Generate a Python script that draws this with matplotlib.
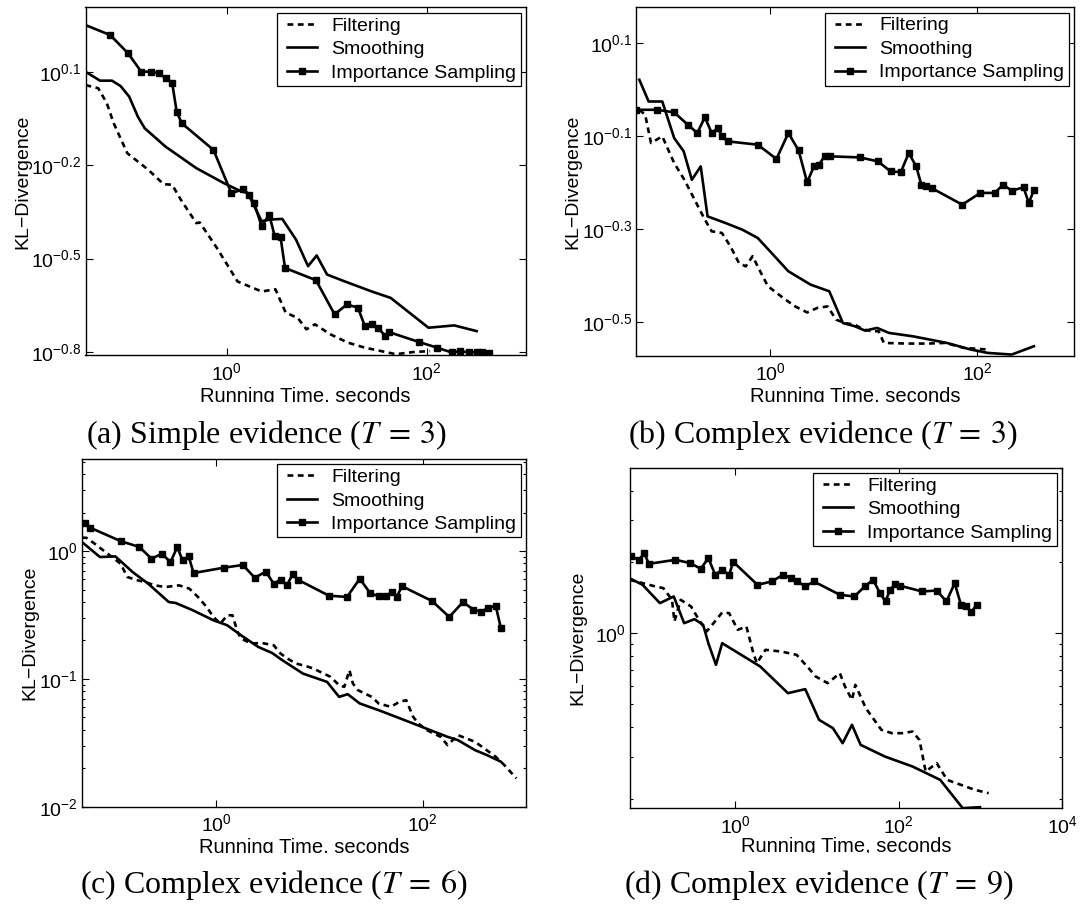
import numpy as np
import matplotlib
matplotlib.use("Agg")
import matplotlib.pyplot as plt
from matplotlib.lines import Line2D
from matplotlib.legend_handler import HandlerLine2D
from matplotlib.patches import Rectangle
from matplotlib.ticker import NullLocator, NullFormatter, LogLocator

plt.rcParams['font.family'] = ['Liberation Sans', 'DejaVu Sans']

# ---------------- data ----------------
series_labels = ['Filtering', 'Smoothing', 'Importance Sampling']
captions = [r'(a) Simple evidence ($T\:=\:3$)', r'(b) Complex evidence ($T\:=\:3$)',
            r'(c) Complex evidence ($T\:=\:6$)', r'(d) Complex evidence ($T\:=\:9$)']
x_label = 'Running Time, seconds'
y_label = 'KL\u2212Divergence'

# panel (a)
a_filt_t = [0.039, 0.0523, 0.0637, 0.0746, 0.102, 0.165, 0.235, 0.286, 0.349, 0.499, 0.540, 0.801,
            1.288, 2.24, 3.08, 3.90, 5.14, 6.27, 7.64, 10.9, 16.2, 24.1, 49.1, 72.9, 108]
a_filt_kl = [1.14, 1.114, 0.997, 0.860, 0.689, 0.610, 0.548, 0.546, 0.489, 0.411, 0.413, 0.342,
             0.267, 0.248, 0.252, 0.212, 0.204, 0.1875, 0.1945, 0.1807, 0.170, 0.1637, 0.156, 0.1585, 0.1596]
a_smooth_t = [0.039, 0.0544, 0.0717, 0.0874, 0.1065, 0.130, 0.152, 0.245, 0.499, 0.939, 1.394, 1.633,
              2.24, 2.73, 3.60, 4.94, 6.52, 7.95, 10.1, 15.0, 28.2, 43.6, 104, 188, 315]
a_smooth_kl = [1.259, 1.178, 1.178, 1.132, 1.047, 0.903, 0.829, 0.724, 0.617, 0.5525, 0.520, 0.513,
               0.417, 0.422, 0.424, 0.364, 0.299, 0.3236, 0.281, 0.2675, 0.248, 0.2365, 0.1897, 0.193, 0.185]
a_is_t = [0.0338, 0.0689, 0.104, 0.1405, 0.1754, 0.212, 0.248, 0.286, 0.3175, 0.357, 0.740, 1.117,
          1.474, 1.673, 1.883, 2.24, 2.67, 3.03, 3.46, 3.84, 7.83, 12.0, 15.95, 20.5, 24.1, 28.2,
          32.5, 38.1, 41.9, 84.0, 127, 177, 217, 262, 315, 355, 422]
a_is_kl = [1.81, 1.650, 1.441, 1.259, 1.259, 1.243, 1.198, 1.161, 0.937, 0.860, 0.706, 0.513,
           0.528, 0.507, 0.477, 0.402, 0.4375, 0.3727, 0.371, 0.295, 0.2695, 0.2094, 0.2254, 0.220,
           0.192, 0.1945, 0.190, 0.179, 0.1837, 0.1706, 0.1637, 0.158, 0.1596, 0.158, 0.1585, 0.1585, 0.157]

# panel (b)
b_filt_t = [0.054, 0.0615, 0.070, 0.090, 0.1173, 0.1473, 0.185, 0.2325, 0.2706, 0.340, 0.411, 0.497,
            0.5785, 0.674, 0.784, 0.948, 1.335, 1.741, 2.272, 2.854, 3.585, 4.335, 5.243, 6.585,
            7.96, 9.63, 11.2, 12.56, 20.6, 33.7, 49.3, 74.9, 127.5]
b_filt_kl = [0.905, 0.883, 0.768, 0.7935, 0.6955, 0.640, 0.580, 0.5255, 0.496, 0.492, 0.4605, 0.424,
             0.417, 0.4385, 0.410, 0.378, 0.3566, 0.342, 0.332, 0.3395, 0.342, 0.3204, 0.315, 0.3126,
             0.305, 0.3025, 0.3025, 0.2855, 0.2846, 0.2846, 0.2855, 0.2786, 0.2763]
b_smooth_t = [0.054, 0.0664, 0.090, 0.1173, 0.145, 0.174, 0.212, 0.247, 0.3667, 0.5363, 0.755, 1.063,
              1.496, 2.452, 3.724, 5.045, 6.585, 8.27, 10.8, 14.08, 24.0, 51.2, 87.2, 127.5, 217, 356]
b_smooth_kl = [1.050, 0.943, 0.943, 0.787, 0.737, 0.640, 0.684, 0.534, 0.517, 0.500, 0.480, 0.442,
               0.407, 0.381, 0.3686, 0.315, 0.310, 0.3034, 0.3075, 0.300, 0.295, 0.2855, 0.2763,
               0.2717, 0.2695, 0.2808]
b_is_t = [0.050, 0.0802, 0.1173, 0.159, 0.1966, 0.2325, 0.2706, 0.3103, 0.340, 0.3896, 0.755, 1.147,
          1.496, 1.879, 2.272, 2.645, 2.965, 3.373, 3.808, 7.38, 11.04, 14.62, 18.36, 21.9, 25.85,
          29.0, 32.5, 36.4, 72.1, 108, 148.5, 179.5, 217, 283, 317.5, 356]
b_is_kl = [0.905, 0.905, 0.8936, 0.8406, 0.8068, 0.873, 0.8068, 0.827, 0.7935, 0.774, 0.7615, 0.7095,
           0.8068, 0.7404, 0.632, 0.684, 0.6898, 0.7212, 0.7188, 0.715, 0.701, 0.667, 0.665, 0.7306,
           0.684, 0.6247, 0.6217, 0.6145, 0.566, 0.5998, 0.5998, 0.6247, 0.6064, 0.6166, 0.5706, 0.6074]

# panel (c)
c_filt_t = [0.0501, 0.055, 0.0666, 0.0806, 0.0977, 0.1184, 0.138, 0.1738, 0.2026, 0.255, 0.321,
            0.4365, 0.5495, 0.666, 0.8066, 0.94, 1.096, 1.278, 1.435, 1.61, 1.738, 2.188, 2.754,
            3.604, 4.2, 4.9, 5.934, 7.47, 8.71, 12.79, 15.49, 17.38, 19.5, 21.05, 23.62, 32.1, 37.4,
            49.0, 59.3, 69.2, 80.7, 90.5, 109.6, 149, 173.8, 218.8, 321, 509, 617, 807]
c_filt_kl = [1.271, 1.271, 1.141, 1.012, 0.898, 0.796, 0.626, 0.590, 0.573, 0.539, 0.523, 0.539,
             0.508, 0.4372, 0.365, 0.305, 0.2705, 0.3144, 0.3144, 0.233, 0.2066, 0.189, 0.191,
             0.1833, 0.1577, 0.144, 0.1318, 0.1256, 0.1205, 0.1037, 0.0892, 0.0866, 0.1169, 0.092,
             0.0815, 0.0723, 0.0642, 0.0604, 0.0661, 0.0681, 0.0505, 0.0448, 0.0397, 0.0352, 0.0303,
             0.0363, 0.0322, 0.0246, 0.02116, 0.01665]
c_smooth_t = [0.0501, 0.0747, 0.1055, 0.155, 0.2188, 0.3467, 0.4043, 0.5935, 0.94, 1.278, 1.738,
              2.551, 3.467, 4.365, 6.918, 11.84, 15.49, 18.76, 24.55, 37.4, 54.95, 80.7, 118.4,
              173.8, 218.8, 321, 420, 571]
c_smooth_kl = [1.176, 0.898, 0.908, 0.685, 0.556, 0.3995, 0.3925, 0.344, 0.2873, 0.2626, 0.2194,
               0.1778, 0.1596, 0.140, 0.110, 0.0947, 0.0723, 0.0759, 0.0642, 0.0569, 0.0505, 0.0448,
               0.0397, 0.0352, 0.0332, 0.0277, 0.0253, 0.0225]
c_is_t = [0.046, 0.054, 0.0603, 0.1184, 0.1806, 0.236, 0.2973, 0.3602, 0.42, 0.4713, 0.5412, 0.6026,
          1.184, 1.806, 2.362, 3.02, 3.604, 4.2, 4.824, 5.495, 6.166, 12.3, 18.48, 24.55, 30.9, 37.4,
          43.65, 50.1, 55.8, 63.1, 123, 180.6, 245.5, 309, 368.6, 430, 509, 571]
c_is_kl = [1.54, 1.655, 1.521, 1.197, 1.075, 0.871, 0.953, 0.8206, 1.075, 0.8455, 0.908, 0.673,
           0.741, 0.778, 0.619, 0.6895, 0.556, 0.597, 0.539, 0.657, 0.597, 0.448, 0.4372, 0.608,
           0.4695, 0.4424, 0.4424, 0.478, 0.4372, 0.530, 0.4068, 0.305, 0.3995, 0.348, 0.3338,
           0.3608, 0.3717, 0.2503]

# panel (d)
d_filt_t = [0.0505, 0.0732, 0.098, 0.1314, 0.1677, 0.1796, 0.214, 0.2869, 0.3485, 0.4448, 0.541,
            0.690, 0.8389, 1.071, 1.366, 1.661, 1.831, 2.337, 3.625, 5.623, 7.91, 9.62, 13.53, 19.05,
            22.03, 26.8, 29.5, 39.6, 61.4, 82.3, 110.3, 147.7, 179.6, 214, 292.5, 392, 579, 855.5, 1264]
d_filt_kl = [1.68, 1.627, 1.585, 1.549, 1.383, 1.12, 1.383, 1.296, 1.157, 1.016, 1.102, 1.223, 1.215,
             1.033, 1.067, 0.823, 0.7467, 0.850, 0.8367, 0.810, 0.7113, 0.656, 0.6146, 0.6776, 0.595,
             0.5227, 0.605, 0.482, 0.3905, 0.378, 0.378, 0.384, 0.354, 0.2603, 0.2823, 0.240, 0.2286,
             0.2178, 0.2108]
d_smooth_t = [0.0505, 0.0732, 0.1192, 0.1761, 0.236, 0.3162, 0.4036, 0.4672, 0.579, 0.690, 2.018,
              4.406, 7.178, 10.6, 15.66, 20.6, 26.8, 34.2, 67.7, 147.7, 322.5, 608, 990]
d_smooth_kl = [1.708, 1.6, 1.339, 1.429, 1.102, 1.146, 1.084, 0.907, 0.7348, 0.907, 0.723, 0.5578,
               0.58, 0.4303, 0.3969, 0.3429, 0.41, 0.3374, 0.3012, 0.2733, 0.240, 0.1823, 0.1840]
d_is_t = [0.0535, 0.0664, 0.0768, 0.0872, 0.1849, 0.2812, 0.377, 0.4672, 0.5678, 0.690, 0.8389, 0.943,
          1.867, 2.786, 3.843, 4.858, 5.623, 7.178, 9.161, 19.05, 28.69, 38.44, 48.58, 58.5, 69.0,
          78.4, 90.7, 105, 194, 292.5, 384.4, 485.8, 579, 670, 776, 898]
d_is_kl = [2.109, 2.041, 2.178, 1.963, 2.041, 1.976, 1.87, 2.074, 1.764, 1.852, 1.764, 2.001, 1.6,
           1.653, 1.764, 1.708, 1.664, 1.575, 1.653, 1.452, 1.429, 1.575, 1.68, 1.485, 1.361, 1.524,
           1.611, 1.585, 1.5, 1.514, 1.361, 1.627, 1.317, 1.296, 1.227, 1.317]

# tick positions (exponents of 10) and labels
a_ytick_exp = ['0.1', '-0.2', '-0.5', '-0.8']
b_ytick_exp = ['0.1', '-0.1', '-0.3', '-0.5']
c_ytick_exp = ['0', '-1', '-2']
d_ytick_exp = ['0']
abc_xtick_exp = ['0', '2']
d_xtick_exp = ['0', '2', '4']

# ---------------- layout / styles ----------------
W, H = 1081, 905
fig = plt.figure(figsize=(W / 100, H / 100), dpi=100)
fig.patch.set_facecolor('white')


def px_rect(left, top, right, bottom):
    return [left / W, 1 - bottom / H, (right - left) / W, (bottom - top) / H]


panels = [
    dict(rect=px_rect(85.5, 7.5, 526, 355.5), data=(a_filt_t, a_filt_kl, a_smooth_t, a_smooth_kl, a_is_t, a_is_kl),
         xlim=(0.039, 980), ylim=(0.1545, 2.023), yt=a_ytick_exp, xt=abc_xtick_exp, minor=False,
         ylab_x=-0.124, xlab_y=-0.090, cap_x=267, cap_y=442.5, cap=captions[0]),
    dict(rect=px_rect(636, 7.3, 1074, 355.7), data=(b_filt_t, b_filt_kl, b_smooth_t, b_smooth_kl, b_is_t, b_is_kl),
         xlim=(0.0501, 871), ylim=(0.268, 1.503), yt=b_ytick_exp, xt=abc_xtick_exp, minor=False,
         ylab_x=-0.124, xlab_y=-0.090, cap_x=822.7, cap_y=442.5, cap=captions[1]),
    dict(rect=px_rect(82, 459, 526, 806.7), data=(c_filt_t, c_filt_kl, c_smooth_t, c_smooth_kl, c_is_t, c_is_kl),
         xlim=(0.0501, 1000), ylim=(0.01, 5.25), yt=c_ytick_exp, xt=abc_xtick_exp, minor=True,
         ylab_x=-0.098, xlab_y=-0.091, cap_x=274, cap_y=892.5, cap=captions[2]),
    dict(rect=px_rect(630, 467.7, 1062, 808.3), data=(d_filt_t, d_filt_kl, d_smooth_t, d_smooth_kl, d_is_t, d_is_kl),
         xlim=(0.0513, 1e4), ylim=(0.182, 5.0), yt=d_ytick_exp, xt=d_xtick_exp, minor=True,
         ylab_x=-0.102, xlab_y=-0.084, cap_x=819, cap_y=892.5, cap=captions[3]),
]

LW = 1.9
FS = 14
FS_LAB = 14.5

for p in panels:
    ax = fig.add_axes(p['rect'])
    ax.set_xscale('log')
    ax.set_yscale('log')
    ft, fk, st, sk, it, ik = p['data']
    ax.plot(ft, fk, color='black', lw=LW, linestyle=(0, (2.2, 1.7)), label=series_labels[0])
    ax.plot(st, sk, color='black', lw=LW, label=series_labels[1])
    ax.plot(it, ik, color='black', lw=LW, marker='s', markersize=4.5, label=series_labels[2])
    ax.set_xlim(*p['xlim'])
    ax.set_ylim(*p['ylim'])

    ax.set_xticks([10 ** float(e) for e in p['xt']],
                  [r'$\mathdefault{10^{%s}}$' % e for e in p['xt']])
    ax.set_yticks([10 ** float(e) for e in p['yt']],
                  [r'$\mathdefault{10^{%s}}$' % e.replace('-', '\u2212') for e in p['yt']])
    ax.xaxis.set_minor_locator(NullLocator())
    if p['minor']:
        ax.yaxis.set_minor_locator(LogLocator(base=10, subs=np.arange(2, 10), numticks=30))
        ax.yaxis.set_minor_formatter(NullFormatter())
    else:
        ax.yaxis.set_minor_locator(NullLocator())

    ax.tick_params(which='both', direction='in', top=True, right=True, width=0.8, labelsize=FS)
    ax.tick_params(which='major', length=5)
    ax.tick_params(which='minor', length=2.5)
    ax.tick_params(axis='x', which='major', pad=5)
    ax.tick_params(axis='y', which='major', pad=3)
    for s in ax.spines.values():
        s.set_linewidth(1.0)

    ax.set_xlabel(x_label, fontsize=FS_LAB)
    ax.set_ylabel(y_label, fontsize=FS)
    ax.xaxis.set_label_coords(0.5, p['xlab_y'])
    ax.yaxis.set_label_coords(p['ylab_x'], 0.5)

    leg = ax.legend(loc='upper right', fontsize=FS, numpoints=1,
                    handler_map={Line2D: HandlerLine2D(xpad=0.29, numpoints=1)},
                    handlelength=1.84, handletextpad=0.73, borderpad=0.22, labelspacing=0.30,
                    borderaxespad=0.27, fancybox=False, edgecolor='black', framealpha=1.0)
    leg.get_frame().set_linewidth(0.9)

    fig.text(p['cap_x'] / W, 1 - p['cap_y'] / H, p['cap'], ha='center', va='baseline',
             fontsize=23, family='Liberation Serif', math_fontfamily='stix', zorder=5)

# the x labels are cut just below their baseline in the original
for y0, y1 in [(401.7, 417.0), (853.0, 866.0)]:
    fig.add_artist(Rectangle((0, 1 - y1 / H), 1, (y1 - y0) / H, transform=fig.transFigure,
                             facecolor='white', edgecolor='none', zorder=2))

fig.savefig('out.png', dpi=100, facecolor='white')
